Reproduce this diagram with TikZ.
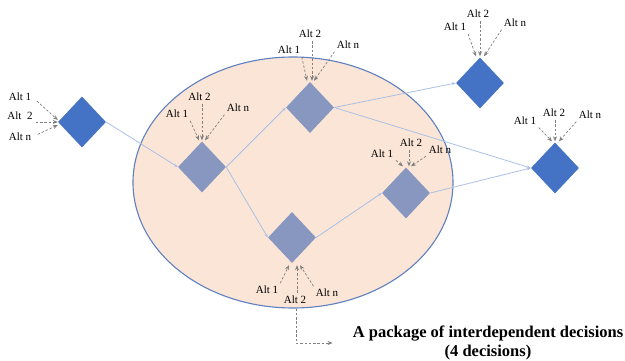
\documentclass[tikz,border=0pt]{standalone}
\usepackage{fontspec}
\setmainfont{Liberation Serif}
\usetikzlibrary{shapes.geometric,arrows.meta}
\definecolor{darkdia}{RGB}{68,114,196}
\definecolor{lightdia}{RGB}{135,151,192}
\definecolor{peach}{RGB}{251,229,214}
\definecolor{ellborder}{RGB}{95,128,192}
\definecolor{conn}{RGB}{170,192,230}
\definecolor{altgray}{RGB}{128,128,128}
\tikzset{
  dia/.style={shape=diamond,inner sep=0pt,minimum width=48pt,minimum height=51pt,draw=none},
  outerdia/.style={dia,fill=darkdia},
  innerdia/.style={dia,fill=lightdia},
  alt/.style={inner sep=1pt,font=\fontsize{11}{12.5}\selectfont},
  altarrow/.style={draw=altgray,line width=0.7pt,dash pattern=on 2.5pt off 1.8pt,-{Stealth[length=5pt,width=4pt]},shorten <=2pt},
  link/.style={draw=conn,line width=0.8pt,-{Stealth[length=4pt,width=3pt]}}
}
\begin{document}
\begin{tikzpicture}[x=1pt,y=-1pt]
\useasboundingbox (0,0) rectangle (625,361);
% package ellipse
\node[shape=ellipse,draw=ellborder,line width=1.1pt,fill=peach,minimum width=320pt,minimum height=251pt,inner sep=0pt] (pkg) at (293,182.5) {};
% diamonds
\node[outerdia] (d0) at (82,122) {};
\node[innerdia] (d1) at (202,167) {};
\node[innerdia] (d2) at (310,107.5) {};
\node[outerdia] (d3) at (480,83) {};
\node[outerdia] (d4) at (555,168) {};
\node[innerdia] (d5) at (406,193) {};
\node[innerdia] (d6) at (292,237.5) {};
% links
\draw[link] (d0.east) -- (d1.west);
\draw[link] (d1.east) -- (d2.west);
\draw[link] (d1.east) -- (d6.west);
\draw[link] (d2.east) -- (d3.west);
\draw[link] (d2.east) -- (d4.west);
\draw[link] (d6.east) -- (d5.west);
\draw[link] (d5.east) -- (d4.west);
% D0 alternatives
\node[alt] (a1) at (20,97) {Alt 1};
\node[alt] (a2) at (20,116) {Alt\ \ 2};
\node[alt] (an) at (20,137) {Alt n};
\draw[altarrow,shorten <=6pt] (a1.east) -- ([yshift=2pt]d0.west);
\draw[altarrow] (a2.east |- d0.west) -- (d0.west);
\draw[altarrow,shorten <=6pt] (an.east) -- ([yshift=-3pt]d0.west);
% D1 alternatives
\node[alt] (b1) at (177,114) {Alt 1};
\node[alt] (b2) at (199.5,97) {Alt 2};
\node[alt] (bn) at (238,108) {Alt n};
\draw[altarrow] (b1.south east) -- ([xshift=-3pt,yshift=1pt]d1.north);
\draw[altarrow] (b2.south -| d1.north) -- ([yshift=1pt]d1.north);
\draw[altarrow] (bn.south west) -- ([xshift=3pt,yshift=1pt]d1.north);
% D2 alternatives
\node[alt] (c1) at (289,50) {Alt 1};
\node[alt] (c2) at (310,34) {Alt 2};
\node[alt] (cn) at (348,45) {Alt n};
\draw[altarrow] (c1.south east) -- ([xshift=-3pt,yshift=1pt]d2.north);
\draw[altarrow] ([xshift=2pt]c2.south -| d2.north) -- ([xshift=2pt,yshift=1pt]d2.north);
\draw[altarrow] (cn.south west) -- ([xshift=4pt,yshift=1pt]d2.north);
% D3 alternatives
\node[alt] (e1) at (455,27) {Alt 1};
\node[alt] (e2) at (478,14) {Alt 2};
\node[alt] (en) at (515,23) {Alt n};
\draw[altarrow] (e1.south east) -- ([xshift=-4pt,yshift=1pt]d3.north);
\draw[altarrow] (e2.south -| d3.north) -- ([yshift=1pt]d3.north);
\draw[altarrow] (en.south west) -- ([xshift=4pt,yshift=1pt]d3.north);
% D4 alternatives
\node[alt] (f1) at (525,121) {Alt 1};
\node[alt] (f2) at (554,113) {Alt 2};
\node[alt] (fn) at (590,115) {Alt n};
\draw[altarrow] (f1.south east) -- ([xshift=-3pt,yshift=1pt]d4.north);
\draw[altarrow] (f2.south -| d4.north) -- ([yshift=1pt]d4.north);
\draw[altarrow] (fn.south west) -- ([xshift=4pt,yshift=1pt]d4.north);
% D5 alternatives
\node[alt] (g1) at (382,154) {Alt 1};
\node[alt] (g2) at (411,143) {Alt 2};
\node[alt] (gn) at (440,150) {Alt n};
\draw[altarrow] (g1.south east) -- ([xshift=-3pt,yshift=1pt]d5.north);
\draw[altarrow] ([xshift=3pt]g2.south -| d5.north) -- ([xshift=3pt,yshift=1pt]d5.north);
\draw[altarrow] (gn.south west) -- ([xshift=5pt,yshift=1pt]d5.north);
% D6 alternatives
\node[alt] (h1) at (267,290) {Alt 1};
\node[alt] (h2) at (295,300) {Alt 2};
\node[alt] (hn) at (327,293) {Alt n};
\draw[altarrow] (h1.north east) -- ([xshift=-3pt,yshift=-2pt]d6.south);
\draw[altarrow] ([xshift=5pt]h2.north -| d6.south) -- ([xshift=5pt,yshift=-2pt]d6.south);
\draw[altarrow] (hn.north west) -- ([xshift=8pt,yshift=-2pt]d6.south);
% caption
\node[inner sep=0pt,align=center,font=\fontsize{16.5}{18.5}\selectfont\bfseries] (txt) at (488,343) {A package of interdependent decisions\\(4 decisions)};
\draw[altarrow,shorten <=0pt] ([xshift=3pt]pkg.south) |- ([xshift=-20pt]txt.west);
\end{tikzpicture}
\end{document}
